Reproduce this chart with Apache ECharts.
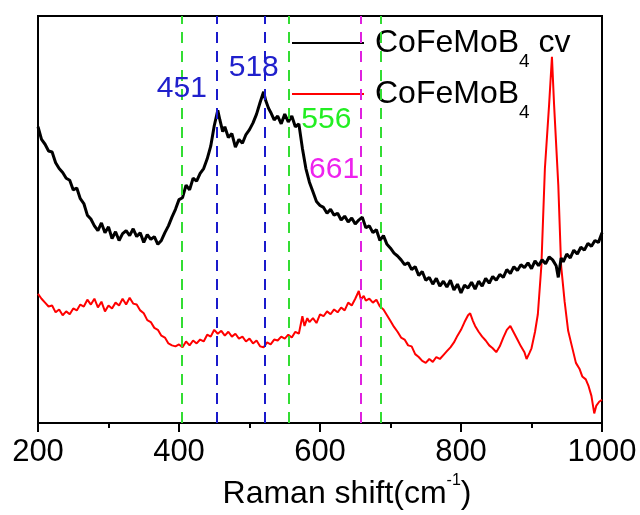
<!DOCTYPE html>
<html>
<head>
<meta charset="utf-8">
<script src="https://cdn.jsdelivr.net/npm/echarts@6/dist/echarts.min.js"></script>
<style>
  html, body { margin: 0; padding: 0; background: #fff; }
  #chart { width: 640px; height: 515px; }
</style>
</head>
<body>
<div id="chart"></div>
<script>
// x ticks shown on the axis
const xTicks = [200, 400, 600, 800, 1000];

// CoFeMoB4 cv (black) : [Raman shift, intensity a.u.]
const cvShift = [200,205,210,215,220,225,230,235,240,245,250,255,260,265,270,275,280,285,290,295,
  300,305,310,315,320,325,330,335,340,345,350,355,360,365,370,375,380,385,390,395,
  400,405,410,415,420,425,430,435,440,445,450,455,458,462,465,470,475,480,485,490,
  495,500,505,510,515,520,523,527,530,535,540,545,550,555,560,565,570,575,580,585,
  590,595,600,605,610,615,620,625,630,635,640,645,650,655,660,665,670,675,680,685,
  690,695,700,705,710,715,720,725,730,735,740,745,750,755,760,765,770,775,780,785,
  790,795,800,805,810,815,820,825,830,835,840,845,850,855,860,865,870,875,880,885,
  890,895,900,905,910,915,920,925,930,935,938,942,945,950,955,960,965,970,975,980,
  985,990,995,1000];
const cvValue = [305,292,287,280,279,268,262,258,252,250,240,242,231,226,214,210,203,198,206,196,
  202,190,197,188,195,198,193,200,192,196,186,194,189,192,184,188,196,203,212,220,
  230,232,245,240,252,249,257,262,272,285,306,322,312,300,305,294,298,284,292,288,
  297,302,309,318,330,341,332,324,320,312,316,308,318,310,316,305,308,283,262,248,
  238,228,224,222,216,220,214,216,209,213,207,211,205,209,212,201,203,196,199,188,
  193,184,180,175,172,168,163,165,158,161,152,156,147,150,143,149,141,146,140,147,
  137,143,134,142,139,145,138,146,141,149,144,151,147,153,150,158,154,161,157,163,
  160,165,159,167,162,168,164,171,168,162,150,170,166,174,170,178,174,181,178,185,
  182,188,186,196];

// CoFeMoB4 (red)
const rawShift = [200,205,210,215,220,225,230,235,240,245,250,255,260,265,270,275,280,285,290,295,
  300,305,310,315,320,325,330,335,340,345,350,355,360,365,370,375,380,385,390,395,
  400,405,410,415,420,425,430,435,440,445,450,455,460,465,470,475,480,485,490,495,
  500,505,510,515,520,525,530,535,540,545,550,555,560,565,570,575,578,582,585,590,
  595,600,605,610,615,620,625,630,635,640,645,650,655,658,662,665,670,675,680,685,
  690,695,700,705,710,715,720,725,730,735,740,745,750,755,760,765,770,775,780,785,
  790,795,800,805,810,813,817,820,825,830,835,840,845,850,855,860,865,870,875,880,
  885,890,893,897,900,905,909,914,919,925,929,932,938,942,947,952,957,963,968,972,
  977,981,985,989,992,996,1000];
const rawValue = [133,128,124,120,121,114,117,111,115,112,118,116,122,120,127,122,128,119,125,115,
  121,118,124,121,128,122,129,123,122,116,113,106,104,98,96,90,88,82,80,79,
  81,78,84,80,85,82,86,84,91,89,96,92,95,90,94,89,92,87,89,84,
  87,82,85,79,78,83,81,86,85,89,87,91,88,94,92,110,100,108,104,108,
  103,112,110,115,112,117,114,119,116,124,121,128,136,127,131,126,128,124,127,120,
  117,111,105,99,94,88,86,80,79,71,68,64,62,66,63,68,66,70,74,78,
  83,90,96,104,111,113,105,100,94,89,85,80,77,73,79,88,96,100,93,86,
  79,73,66,72,77,94,112,162,262,328,377,328,245,162,125,95,80,62,56,48,
  45,38,28,10,18,22,24];

// dashed reference lines
const refShift = [404, 454, 522, 556, 658, 686];
const refColor = ['#33dd33', '#1a1acc', '#1a1acc', '#33dd33', '#e020e0', '#33dd33'];

// peak labels
const peakText = ['451', '518', '556', '661'];
const peakX = [404, 506, 609, 620];
const peakY = [344, 366, 312, 261];
const peakColor = ['#2020cc', '#2020cc', '#22ee22', '#ee22ee'];

const FONT = 'Liberation Sans, Arial, sans-serif';

const zip = (xs, ys) => xs.map((x, i) => [x, ys[i]]);

const legendRich = {
  n: { fontSize: 32, fontFamily: FONT, color: '#000', lineHeight: 56, verticalAlign: 'middle' },
  s: { fontSize: 19, fontFamily: FONT, color: '#000', lineHeight: 19, verticalAlign: 'bottom' }
};
const legendFmt = name => '{n|' + name.replace('B4', 'B}{s|4}{n|') + '}';

const chart = echarts.init(document.getElementById('chart'), null, { renderer: 'canvas' });
chart.setOption({
  animation: false,
  backgroundColor: '#fff',
  grid: { left: 38, right: 38, top: 16, bottom: 80, show: true, borderColor: '#000', borderWidth: 2, backgroundColor: 'transparent' },
  legend: [
    { data: ['CoFeMoB4 cv'], left: 287, top: 22, orient: 'vertical', icon: 'rect', itemWidth: 72, itemHeight: 2,
      textStyle: { rich: legendRich, padding: [0, 0, 0, 6] }, formatter: legendFmt, selectedMode: false },
    { data: ['CoFeMoB4'], left: 287, top: 73, orient: 'vertical', icon: 'rect', itemWidth: 72, itemHeight: 2,
      textStyle: { rich: legendRich, padding: [0, 0, 0, 6] }, formatter: legendFmt, selectedMode: false }
  ],
  xAxis: {
    type: 'value', min: 200, max: 1000, interval: 200,
    name: '{n|Raman shift(cm}{p|-1}{n|)}',
    nameLocation: 'middle', nameGap: 41,
    nameTextStyle: {
      padding: [0, 0, 0, 54],
      rich: {
        n: { fontSize: 32, fontFamily: FONT, color: '#000', lineHeight: 42, verticalAlign: 'middle' },
        p: { fontSize: 16, fontFamily: FONT, color: '#000', lineHeight: 16, verticalAlign: 'top' }
      }
    },
    axisLine: { lineStyle: { color: '#000', width: 2 } },
    axisTick: { length: 9, lineStyle: { color: '#000', width: 2 } },
    minorTick: { show: true, splitNumber: 2, length: 5, lineStyle: { color: '#000', width: 2 } },
    splitLine: { show: false },
    axisLabel: {
      fontSize: 31, fontFamily: FONT, color: '#000', margin: 14,
      formatter: v => String(v)
    }
  },
  yAxis: {
    type: 'value', min: 0, max: 419,
    axisLine: { show: true, lineStyle: { color: '#000', width: 2 } },
    axisTick: { show: false }, axisLabel: { show: false }, splitLine: { show: false }
  },
  series: [
    {
      name: 'CoFeMoB4 cv', type: 'line', data: zip(cvShift, cvValue),
      showSymbol: false, symbol: 'none', color: '#000',
      lineStyle: { color: '#000', width: 3 },
      markLine: {
        silent: true, symbol: 'none', label: { show: false },
        data: refShift.map((x, i) => ({ xAxis: x, lineStyle: { color: refColor[i], type: [11, 8], width: 2 } }))
      },
      markPoint: {
        symbol: 'circle', symbolSize: 0,
        label: { show: true, position: 'inside', formatter: '{b}', fontSize: 30, fontFamily: FONT },
        data: peakText.map((t, i) => ({ name: t, coord: [peakX[i], peakY[i]], label: { color: peakColor[i] } }))
      },
      z: 3
    },
    {
      name: 'CoFeMoB4', type: 'line', data: zip(rawShift, rawValue),
      showSymbol: false, symbol: 'none', color: '#f00',
      lineStyle: { color: '#f00', width: 2 },
      z: 2
    }
  ]
});
</script>
</body>
</html>
